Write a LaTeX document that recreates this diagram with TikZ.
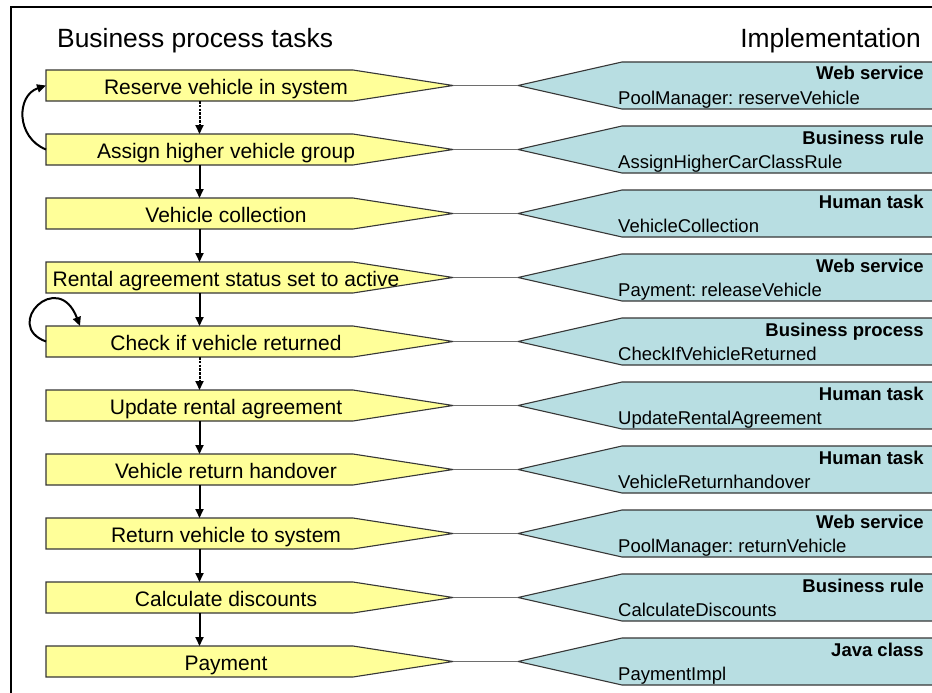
\documentclass[tikz,border=0pt]{standalone}
\usepackage{fontspec}
\setmainfont{Liberation Sans}
\frenchspacing
\usetikzlibrary{arrows.meta,calc,backgrounds}
\definecolor{ylw}{RGB}{255,255,153}
\definecolor{tea}{RGB}{184,222,226}
\definecolor{edge}{RGB}{55,55,55}
\definecolor{linkc}{RGB}{110,110,110}
\begin{document}
\begin{tikzpicture}[x=1pt,y=-1pt,
  ybody/.style={minimum width=307pt,minimum height=31pt,inner sep=0pt,outer sep=0pt},
  tbody/.style={minimum width=323pt,minimum height=47pt,inner sep=0pt,outer sep=0pt},
  yshape/.style={fill=ylw,draw=edge,line width=1.1pt},
  tshape/.style={fill=tea,draw=edge,line width=1.1pt},
  ytxt/.style={anchor=base,inner sep=0pt,font=\fontsize{21}{25}\selectfont},
  ktxt/.style={anchor=base east,inner sep=0pt,font=\bfseries\fontsize{18.5}{22}\selectfont},
  itxt/.style={anchor=base west,inner sep=0pt,font=\fontsize{18.5}{22}\selectfont},
  head/.style={inner sep=0pt,font=\fontsize{26.4}{30}\selectfont},
  link/.style={draw=linkc,line width=1.6pt},
  flow/.style={-{Triangle[length=9pt,width=8pt]},line width=2pt},
  dflow/.style={flow,dash pattern=on 2.5pt off 1.3pt},
  ]
\useasboundingbox (0,0) rectangle (932,693);
\begin{pgfonlayer}{background}
  \fill[white] (0,0) rectangle (932,693);
\end{pgfonlayer}
\draw[line width=1.4pt] (945,7) -- (11,7) -- (11,700);

\node[head,anchor=base west] (hl) at (57,47.5) {Business process tasks};
\node[head,anchor=base east] (hr) at (921,47.5) {Implementation};

\foreach \i/\task/\kind/\impl in {
  1/Reserve vehicle in system/Web service/PoolManager: reserveVehicle,
  2/Assign higher vehicle group/Business rule/AssignHigherCarClassRule,
  3/Vehicle collection/Human task/VehicleCollection,
  4/Rental agreement status set to active/Web service/Payment: releaseVehicle,
  5/Check if vehicle returned/Business process/CheckIfVehicleReturned,
  6/Update rental agreement/Human task/UpdateRentalAgreement,
  7/Vehicle return handover/Human task/VehicleReturnhandover,
  8/Return vehicle to system/Web service/PoolManager: returnVehicle,
  9/Calculate discounts/Business rule/CalculateDiscounts,
  10/Payment/Java class/PaymentImpl}{
  \node[ybody] (y\i) at (199.5,{85.5+64*(\i-1)}) {};
  \node[tbody] (t\i) at (783.5,{85.5+64*(\i-1)}) {};
  \coordinate (yp\i) at ([xshift=100pt]y\i.east);
  \coordinate (tp\i) at ([xshift=-104pt]t\i.west);
  \begin{pgfonlayer}{background}
    \filldraw[yshape] (y\i.north west) -- (y\i.north east) -- (yp\i) -- (y\i.south east) -- (y\i.south west) -- cycle;
    \filldraw[tshape] (t\i.north east) -- (t\i.north west) -- (tp\i) -- (t\i.south west) -- (t\i.south east) -- cycle;
  \end{pgfonlayer}
  \draw[link] (yp\i) -- (tp\i);
  \node[ytxt] (yl\i) at ([xshift=26.5pt,yshift=-9pt]y\i.center) {\task};
  \node[ktxt] (k\i) at ([xshift=-21pt,yshift=5.5pt]t\i.east) {\kind};
  \node[itxt] (m\i) at ([xshift=-4pt,yshift=-18.5pt]t\i.west) {\impl};
}

\draw[dflow] (y1.south) -- (y2.north);
\draw[dflow] (y5.south) -- (y6.north);
\foreach \a/\b in {2/3,3/4,4/5,6/7,7/8,8/9,9/10}
  \draw[flow] (y\a.south) -- (y\b.north);

\draw[flow] (y2.west) .. controls +(-30,-12) and +(-30,10) .. (y1.west);
\draw[flow] (y5.west) .. controls +(-44,-16) and +(-22,-58) .. ([xshift=34pt]y5.north west);
\end{tikzpicture}
\end{document}
